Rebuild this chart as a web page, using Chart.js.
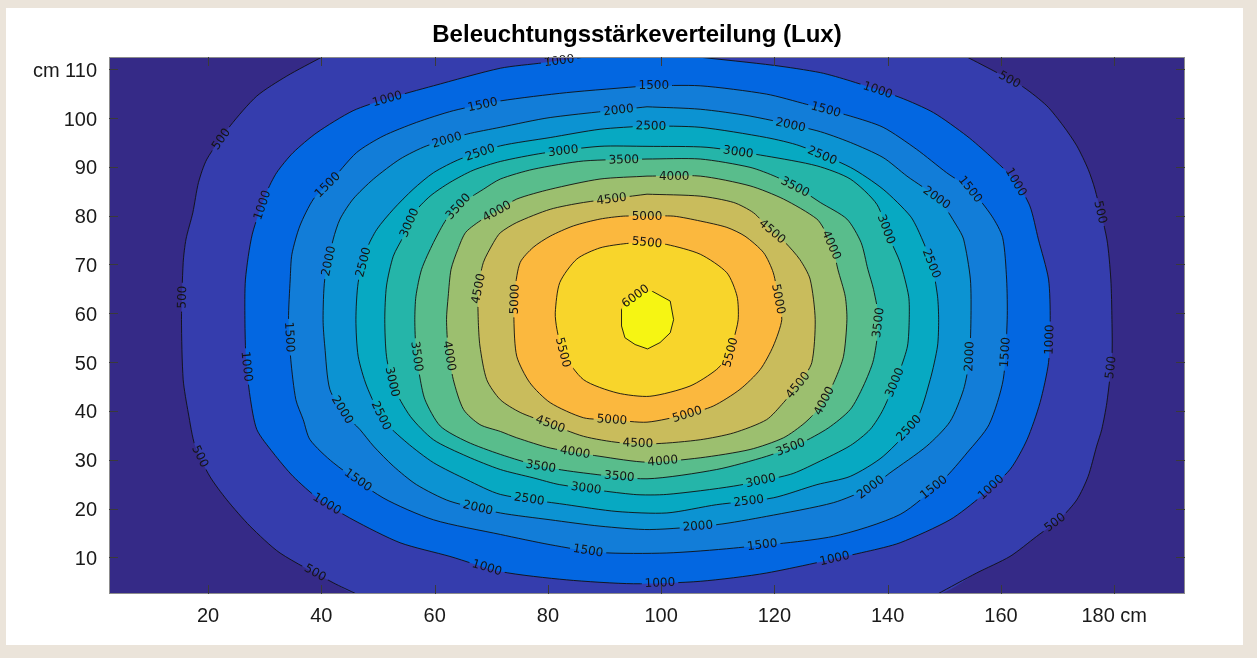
<!DOCTYPE html>
<html>
<head>
<meta charset="utf-8">
<title>Beleuchtungsstärkeverteilung</title>
<script src="https://cdn.jsdelivr.net/npm/chart.js@4.4.1/dist/chart.umd.min.js"></script>
<style>
  html, body { margin: 0; padding: 0; background: #ebe4da; }
  #sheet { position: absolute; left: 6px; top: 8px; width: 1237px; height: 637px; background: #fff; }
  #wrap { position: absolute; left: 0; top: 0; width: 1257px; height: 658px; }
</style>
</head>
<body>
<div id="sheet"></div>
<div id="wrap"><canvas id="contour" width="1257" height="658"></canvas></div>
<script>
const chartTitle = 'Beleuchtungsstärkeverteilung (Lux)';

// axis ticks (cm)
const xTickValues = [20, 40, 60, 80, 100, 120, 140, 160, 180];
const yTickValues = [10, 20, 30, 40, 50, 60, 70, 80, 90, 100, 110];

// contour levels (lux) and the parula band colours (below 500 ... above 6000)
const levels = [500, 1000, 1500, 2000, 2500, 3000, 3500, 4000, 4500, 5000, 5500, 6000];
const bandColors = ['#352a87', '#353dad', '#0367e1', '#127dd8', '#0c93d2', '#07a9c2',
  '#25b5a9', '#59bd8c', '#9cbf6f', '#c9bc5c', '#fbb83e', '#f8d52b', '#f6f513'];

// contour lines, [x cm, y cm]
const c500a = [[40.1,112.5],[33.9,108.6],[28.6,104.5],[23.9,98.4],[19.8,91.6],[18.3,86.8],[17.3,80.6],[16.1,75.2],[15.6,70.4],[15.3,58.7],[15.6,46.4],[16.5,39.6],[17.7,32.8],[20.3,26.6],[23.3,21.8],[27.4,16.4],[32.7,10.9],[42.1,4.8],[46.2,2.5]];
const c500b = [[154.0,112.5],[159.3,109.3],[164.0,106.3],[168.1,102.5],[171.0,98.4],[173.4,94.3],[175.4,89.5],[176.6,85.4],[178.7,75.2],[179.4,67.0],[179.6,58.7],[179.6,51.2],[178.7,41.7],[177.8,36.2],[176.9,32.8],[175.4,26.6],[173.4,21.8],[170.5,18.0],[166.3,14.3],[161.6,10.2],[155.7,6.8],[148.8,2.5]];
const c1000 = [[86.6,112.5],[79.1,111.3],[71.6,110.2],[59.8,106.6],[51.5,103.9],[45.6,101.5],[39.2,97.0],[35.0,92.9],[32.1,88.8],[30.3,84.7],[27.8,76.2],[26.6,67.0],[26.5,58.7],[26.7,50.5],[27.4,43.0],[28.6,36.2],[31.5,31.4],[35.0,26.6],[39.5,22.0],[45.6,17.7],[53.9,13.0],[62.7,10.2],[71.6,7.1],[83.3,5.4],[95.1,4.6],[106.9,5.1],[118.6,6.8],[136.3,11.2],[142.2,13.0],[151.0,17.7],[156.5,22.5],[161.6,28.0],[164.6,34.1],[166.9,41.7],[168.4,49.9],[168.7,58.7],[168.4,67.0],[166.6,75.2],[165.1,82.0],[162.5,87.2],[158.1,92.2],[154.0,96.3],[148.1,101.1],[142.2,104.2],[133.4,107.6],[128.1,109.3],[119.8,110.8],[106.5,112.5]];
const c1500 = [[97.5,106.6],[83.3,105.2],[71.6,103.5],[63.3,101.5],[56.8,99.1],[50.9,96.3],[46.2,92.9],[41.5,86.8],[38.6,83.4],[36.2,77.9],[34.8,72.1],[34.5,67.0],[34.2,58.7],[34.6,50.5],[35.5,42.3],[36.8,38.2],[38.0,34.1],[42.1,29.4],[50.9,22.2],[59.8,17.7],[71.6,14.7],[80.4,12.6],[89.2,11.0],[101.0,10.9],[112.8,11.9],[130.4,14.3],[142.2,18.8],[149.8,25.9],[154.0,31.4],[157.9,37.2],[160.4,46.4],[161.1,58.7],[161.0,67.0],[160.3,75.5],[158.4,79.9],[154.6,85.4],[150.4,88.8],[145.1,93.6],[139.2,98.1],[133.4,100.4],[125.7,102.8],[118.6,104.9],[106.9,106.6]];
const c2000 = [[97.5,102.3],[80.4,100.1],[71.6,98.1],[65.7,96.7],[58.6,94.3],[53.9,91.6],[49.2,87.5],[45.6,83.4],[43.3,79.3],[42.1,75.2],[40.6,67.0],[40.3,58.7],[40.6,53.3],[41.5,44.4],[44.2,39.3],[46.8,36.2],[49.2,32.8],[52.7,28.7],[56.8,24.9],[62.7,21.5],[71.6,19.1],[80.4,17.7],[89.2,16.4],[98.0,15.7],[109.8,16.7],[118.6,18.4],[130.4,21.2],[136.9,24.3],[140.4,27.3],[146.9,32.8],[151.0,37.8],[153.4,44.4],[154.4,50.5],[154.7,58.7],[154.6,67.0],[153.4,75.2],[152.2,77.9],[149.0,83.4],[143.4,88.1],[139.2,91.9],[133.4,95.0],[127.5,97.4],[115.7,100.4],[106.9,101.8]];
const c2500 = [[97.5,98.4],[89.2,97.7],[80.4,96.0],[71.6,94.3],[64.5,91.6],[59.8,88.8],[56.2,85.4],[52.7,81.3],[49.8,77.2],[48.0,73.1],[46.5,66.3],[46.1,58.7],[46.5,51.2],[48.0,45.1],[50.9,38.2],[55.1,33.5],[59.8,29.4],[65.7,25.9],[71.6,22.9],[83.3,20.8],[92.2,19.4],[101.0,19.1],[109.8,20.8],[119.8,22.2],[127.5,24.9],[133.4,26.6],[139.2,30.7],[145.1,38.2],[147.5,46.4],[148.8,53.3],[149.0,58.7],[148.8,63.5],[147.8,70.0],[145.7,76.2],[144.0,79.9],[139.2,85.4],[133.4,89.9],[124.5,94.3],[118.6,96.0],[106.9,98.1]];
const c3000 = [[97.5,94.2],[89.2,94.2],[79.1,92.8],[71.6,91.1],[66.8,89.3],[62.7,86.8],[59.2,84.0],[56.2,80.3],[54.5,75.8],[52.7,71.7],[51.5,65.6],[51.2,58.7],[51.5,51.2],[52.7,45.1],[55.7,38.9],[59.8,34.1],[65.7,30.7],[71.6,28.0],[77.4,26.3],[82.1,24.9],[95.1,22.9],[101.0,22.9],[112.8,24.6],[122.8,27.0],[127.5,29.4],[133.4,32.9],[136.9,36.2],[139.2,40.3],[142.2,48.5],[143.5,53.3],[143.8,58.7],[143.7,63.5],[142.2,70.4],[140.4,75.2],[138.1,82.3],[133.4,87.5],[127.5,90.2],[118.6,92.2],[108.1,94.0]];
const c3500 = [[97.5,91.6],[86.3,91.2],[77.4,89.5],[71.6,87.5],[68.6,85.4],[64.5,82.3],[62.1,79.3],[59.8,74.5],[57.7,69.0],[56.7,63.5],[56.5,58.7],[56.7,52.6],[57.3,47.5],[58.3,42.3],[61.0,36.9],[65.7,33.7],[71.6,31.1],[78.6,28.7],[86.3,27.3],[97.5,26.1],[109.8,28.0],[118.6,30.7],[124.5,33.3],[129.5,36.5],[133.4,40.3],[135.7,45.1],[137.5,50.5],[138.4,58.7],[137.5,64.9],[136.5,69.0],[135.3,74.5],[132.8,79.3],[128.1,82.7],[124.8,85.2],[120.4,87.9],[115.7,89.9],[106.9,91.6]];
const c4000 = [[97.5,88.1],[89.2,87.5],[80.4,85.4],[74.5,83.4],[71.6,81.3],[68.5,79.3],[65.5,76.6],[64.1,73.1],[62.9,69.0],[62.4,63.5],[62.1,58.7],[62.4,52.6],[63.3,46.4],[65.1,40.3],[68.0,37.2],[71.6,35.8],[74.5,34.5],[80.4,32.4],[89.2,30.7],[97.5,29.5],[106.9,30.4],[115.7,32.1],[121.6,34.5],[125.4,37.6],[128.4,41.3],[130.7,46.4],[132.2,51.2],[132.8,58.7],[132.5,63.5],[131.2,69.0],[130.4,73.1],[129.2,76.3],[127.5,79.3],[121.6,83.4],[115.7,86.1],[106.9,88.1]];
const c4500 = [[97.5,84.4],[86.3,82.7],[80.4,81.3],[74.5,78.6],[71.6,76.5],[70.4,74.5],[68.6,70.4],[67.7,64.9],[67.7,58.7],[68.0,53.3],[69.2,46.4],[71.6,42.3],[75.1,39.7],[79.8,37.6],[86.3,34.8],[92.7,33.5],[99.2,33.3],[106.9,34.1],[112.8,35.5],[118.6,38.2],[121.6,41.7],[124.5,45.8],[126.6,49.9],[127.2,58.7],[126.3,67.0],[124.5,71.0],[121.9,74.5],[119.2,77.2],[116.3,80.6],[112.8,82.7],[106.9,84.0]];
const c5000 = [[97.5,79.9],[93.3,79.9],[89.2,79.3],[84.5,77.9],[80.4,75.8],[77.4,73.5],[75.1,70.4],[74.2,64.9],[74.0,58.7],[74.5,51.2],[76.8,45.8],[80.4,41.7],[86.3,38.6],[91.3,38.2],[97.5,37.7],[104.5,39.3],[109.2,41.0],[113.9,44.4],[117.5,48.5],[119.8,53.3],[121.3,58.7],[120.7,62.9],[119.8,68.3],[118.1,72.4],[114.8,75.8],[111.6,77.6],[106.9,78.9],[102.2,79.9]];
const c5500 = [[97.5,74.5],[101.0,74.1],[106.9,72.1],[111.6,68.3],[113.4,63.5],[113.6,58.7],[112.8,54.6],[112.2,51.9],[109.8,48.5],[105.1,45.1],[98.0,43.0],[92.2,43.7],[86.3,46.4],[82.7,51.9],[81.6,56.7],[81.3,60.1],[82.1,66.3],[85.1,71.1],[89.2,73.4],[93.9,74.3]];
const c6000 = [[98.3,64.6],[101.6,62.5],[102.2,58.7],[101.6,56.0],[99.8,54.0],[97.6,52.7],[95.4,53.6],[93.6,55.0],[93.0,57.4],[93.0,60.8],[93.9,62.2],[95.9,63.9]];

// inline labels: [level, approx x, approx y] - snapped onto the line when drawn
const contourLabels = [
  [500,22.3,95.7],[500,15.4,63.3],[500,18.6,30.7],[500,38.5,6.0],[500,161.4,107.6],[500,177.5,80.7],[500,179.6,48.9],[500,169.7,16.9],
  [1000,51.6,104.1],[1000,29.7,82.1],[1000,26.9,49.1],[1000,40.6,20.2],[1000,69.3,8.1],[1000,99.8,4.6],[1000,130.7,9.4],[1000,158.1,24.5],[1000,168.3,54.6],[1000,162.5,86.8],[1000,138.3,105.9],[1000,82.0,111.6],
  [1500,68.5,102.6],[1500,41.0,86.4],[1500,33.9,55.1],[1500,45.9,24.9],[1500,87.1,11.4],[1500,117.8,13.0],[1500,148.0,24.5],[1500,160.7,52.0],[1500,154.6,85.4],[1500,129.1,101.8],[1500,98.7,106.7],
  [2000,62.2,95.4],[2000,92.4,102.2],[2000,122.8,98.3],[2000,147.8,82.3],[2000,154.0,51.2],[2000,136.9,24.5],[2000,106.5,16.1],[2000,67.7,20.4],[2000,43.3,39.9],[2000,41.7,70.6],
  [2500,68.0,93.0],[2500,98.2,98.3],[2500,128.4,92.2],[2500,148.2,70.4],[2500,143.1,37.2],[2500,115.5,21.2],[2500,76.7,22.0],[2500,50.0,38.7],[2500,47.0,70.6],
  [3000,56.2,78.2],[3000,82.7,93.2],[3000,113.6,93.0],[3000,139.7,77.2],[3000,141.7,45.6],[3000,117.6,25.7],[3000,86.7,23.7],[3000,52.7,46.0],
  [3500,64.7,81.3],[3500,93.4,91.6],[3500,123.6,85.8],[3500,138.3,58.1],[3500,122.9,32.3],[3500,92.6,26.4],[3500,78.8,29.0],[3500,57.1,51.2],
  [4000,71.0,80.9],[4000,102.3,87.9],[4000,129.1,73.5],[4000,128.4,42.3],[4000,100.3,29.6],[4000,84.8,31.5],[4000,62.2,51.2],
  [4500,91.2,83.8],[4500,119.2,76.2],[4500,68.5,64.9],[4500,123.6,45.8],[4500,95.9,33.3],[4500,80.4,37.2],
  [5000,97.5,79.9],[5000,74.2,62.9],[5000,120.6,62.9],[5000,91.3,38.2],[5000,104.6,39.3],
  [5500,97.5,74.5],[5500,82.7,52.0],[5500,112.2,52.0],
  [6000,95.6,63.3]
];

const contourSets = [
  {fill: c500a.concat(c500b.slice().reverse()), lines: [c500a, c500b], closed: false},
  {fill: c1000, lines: [c1000], closed: false},
  {fill: c1500, lines: [c1500], closed: true},
  {fill: c2000, lines: [c2000], closed: true},
  {fill: c2500, lines: [c2500], closed: true},
  {fill: c3000, lines: [c3000], closed: true},
  {fill: c3500, lines: [c3500], closed: true},
  {fill: c4000, lines: [c4000], closed: true},
  {fill: c4500, lines: [c4500], closed: true},
  {fill: c5000, lines: [c5000], closed: true},
  {fill: c5500, lines: [c5500], closed: true},
  {fill: c6000, lines: [c6000], closed: true}
];

const toPts = (arr, close) => (close ? arr.concat([arr[0]]) : arr).map(p => ({x: p[0], y: p[1]}));

const datasets = [];
contourSets.forEach((c, i) => {
  datasets.push({
    data: toPts(c.fill, c.closed), showLine: true, fill: 'shape',
    backgroundColor: bandColors[i + 1], borderColor: 'transparent', borderWidth: 0,
    pointRadius: 0, tension: i === 11 ? 0 : 0.25, xAxisID: 'x', yAxisID: 'y'
  });
});
contourSets.forEach((c, i) => {
  c.lines.forEach(line => {
    datasets.push({
      data: toPts(line, c.closed), showLine: true, fill: false, isLine: true, level: levels[i],
      borderColor: '#111', borderWidth: 0.9, pointRadius: 0,
      tension: i === 11 ? 0 : 0.25, xAxisID: 'x', yAxisID: 'y'
    });
  });
});
// first in the list is drawn first
datasets.forEach((d, i) => { d.order = datasets.length - i; });

const labelFont = '12px "DejaVu Sans", sans-serif';
let placedLabels = [];

const contourLabelPlugin = {
  id: 'contourLabels',
  beforeDatasetsDraw(chart) {
    const {ctx, scales} = chart;
    ctx.save();
    ctx.font = labelFont;
    placedLabels = [];
    contourLabels.forEach(([level, lx, ly]) => {
      const px = scales.x.getPixelForValue(lx), py = scales.y.getPixelForValue(ly);
      let best = null;
      chart.data.datasets.forEach((ds, di) => {
        if (!ds.isLine || ds.level !== level) return;
        const pts = chart.getDatasetMeta(di).data;
        for (let k = 0; k < pts.length - 1; k++) {
          const a = pts[k], b = pts[k + 1];
          const dx = b.x - a.x, dy = b.y - a.y;
          const len2 = dx * dx + dy * dy || 1;
          let t = ((px - a.x) * dx + (py - a.y) * dy) / len2;
          t = Math.max(0, Math.min(1, t));
          const qx = a.x + t * dx, qy = a.y + t * dy;
          const d = (qx - px) ** 2 + (qy - py) ** 2;
          if (!best || d < best.d) best = {d, x: qx, y: qy, ang: Math.atan2(dy, dx)};
        }
      });
      if (!best) return;
      let ang = best.ang;
      if (ang > Math.PI / 2) ang -= Math.PI;
      if (ang <= -Math.PI / 2) ang += Math.PI;
      const text = String(level);
      placedLabels.push({x: best.x, y: best.y, ang, text, w: ctx.measureText(text).width});
    });
    ctx.restore();
  },
  beforeDatasetDraw(chart, args) {
    if (!chart.data.datasets[args.index].isLine) return;
    const ctx = chart.ctx;
    ctx.save();
    ctx.beginPath();
    ctx.rect(0, 0, chart.width, chart.height);
    placedLabels.forEach(p => {
      const c = Math.cos(p.ang), s = Math.sin(p.ang);
      const hw = p.w / 2 + 3, hh = 6;
      const corners = [[-hw, -hh], [hw, -hh], [hw, hh], [-hw, hh]]
        .map(([u, v]) => [p.x + u * c - v * s, p.y + u * s + v * c]);
      ctx.moveTo(corners[0][0], corners[0][1]);
      for (let k = 1; k < 4; k++) ctx.lineTo(corners[k][0], corners[k][1]);
      ctx.closePath();
    });
    ctx.clip('evenodd');
  },
  afterDatasetDraw(chart, args) {
    if (chart.data.datasets[args.index].isLine) chart.ctx.restore();
  },
  afterDatasetsDraw(chart) {
    const ctx = chart.ctx;
    ctx.save();
    ctx.font = labelFont;
    ctx.fillStyle = '#141414';
    ctx.textAlign = 'center';
    ctx.textBaseline = 'middle';
    placedLabels.forEach(p => {
      ctx.save();
      ctx.translate(p.x, p.y);
      ctx.rotate(p.ang);
      ctx.fillText(p.text, 0, 0.5);
      ctx.restore();
    });
    ctx.restore();
  }
};

const framePlugin = {
  id: 'frame',
  beforeDatasetsDraw(chart) {
    const {ctx, chartArea: a} = chart;
    ctx.save();
    ctx.fillStyle = bandColors[0];
    ctx.fillRect(a.left, a.top, a.right - a.left, a.bottom - a.top);
    ctx.restore();
  },
  afterDraw(chart) {
    const {ctx, chartArea: a, scales} = chart;
    ctx.save();
    ctx.lineWidth = 1;
    ctx.strokeStyle = '#8c8c8c';
    ctx.strokeRect(a.left + 0.5, a.top + 0.5, a.right - a.left - 1, a.bottom - a.top - 1);
    ctx.strokeStyle = '#3a3a3a';
    ctx.beginPath();
    scales.x.ticks.forEach(t => {
      const px = Math.round(scales.x.getPixelForValue(t.value)) + 0.5;
      ctx.moveTo(px, a.bottom); ctx.lineTo(px, a.bottom - 9);
      ctx.moveTo(px, a.top); ctx.lineTo(px, a.top + 9);
    });
    scales.y.ticks.forEach(t => {
      const py = Math.round(scales.y.getPixelForValue(t.value)) + 0.5;
      ctx.moveTo(a.left, py); ctx.lineTo(a.left + 9, py);
      ctx.moveTo(a.right, py); ctx.lineTo(a.right - 9, py);
    });
    ctx.stroke();
    ctx.fillStyle = '#000';
    ctx.font = 'bold 24px "Liberation Sans", Arial, sans-serif';
    ctx.textAlign = 'center';
    ctx.textBaseline = 'alphabetic';
    ctx.fillText(chartTitle, 637, 42);
    ctx.restore();
  }
};

const everyStep = (min, max, step) => {
  const out = [];
  for (let v = Math.ceil(min / step) * step; v <= max; v += step) out.push({value: v});
  return out;
};

Chart.defaults.font.family = '"Liberation Sans", Arial, sans-serif';
Chart.defaults.color = '#1a1a1a';

const majorGrid = {color: 'rgba(20,20,20,0.18)', lineWidth: 1, drawTicks: false};
const minorGrid = {color: 'rgba(20,20,20,0.33)', lineWidth: 1, drawTicks: false};

new Chart(document.getElementById('contour'), {
  type: 'scatter',
  data: {datasets},
  options: {
    responsive: false,
    animation: false,
    events: [],
    layout: {padding: {top: 57, right: 72, left: 0, bottom: 0}},
    plugins: {legend: {display: false}, tooltip: {enabled: false}, title: {display: false}},
    scales: {
      x: {
        type: 'linear', min: 2.5, max: 192.5, position: 'bottom', z: 1,
        grid: majorGrid, border: {display: false},
        afterBuildTicks: axis => { axis.ticks = xTickValues.map(v => ({value: v})); },
        ticks: {padding: 10, font: {size: 20},
          callback: v => v === 180 ? '180 cm' : String(v)},
        afterFit: s => { s.height = 64; }
      },
      y: {
        type: 'linear', min: 2.5, max: 112.5, position: 'left', z: 1,
        grid: majorGrid, border: {display: false},
        afterBuildTicks: axis => { axis.ticks = yTickValues.map(v => ({value: v})); },
        ticks: {padding: 12, labelOffset: 2, font: {size: 20},
          callback: v => v === 110 ? 'cm 110' : String(v)},
        afterFit: s => { s.width = 109; }
      },
      x2: {
        type: 'linear', min: 2.5, max: 192.5, position: 'bottom', z: 1,
        grid: minorGrid, border: {display: false, dash: [1, 2]},
        afterBuildTicks: axis => { axis.ticks = everyStep(2.5, 192.5, 4); },
        ticks: {display: false},
        afterFit: s => { s.height = 0; }
      },
      y2: {
        type: 'linear', min: 2.5, max: 112.5, position: 'left', z: 1,
        grid: minorGrid, border: {display: false, dash: [1, 2]},
        afterBuildTicks: axis => { axis.ticks = everyStep(2.5, 112.5, 2); },
        ticks: {display: false},
        afterFit: s => { s.width = 0; }
      }
    }
  },
  plugins: [framePlugin, contourLabelPlugin]
});
</script>
</body>
</html>
